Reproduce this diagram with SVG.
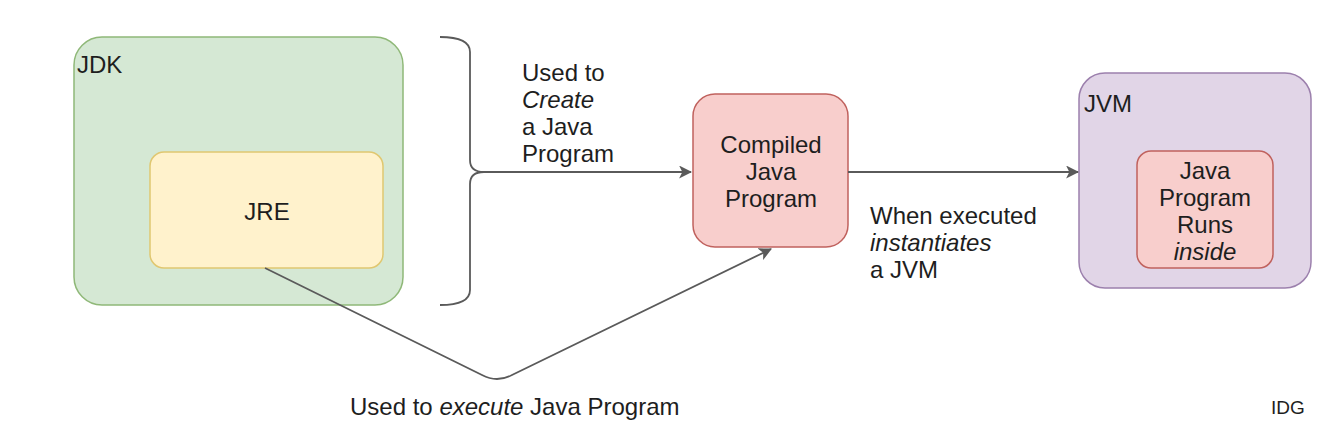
<svg xmlns="http://www.w3.org/2000/svg" width="1334" height="440" viewBox="0 0 1334 440">
<style>
text{font-family:"Liberation Sans",Arial,sans-serif;fill:#1e1e1e;font-size:24px}
.c{text-anchor:middle}
.i{font-style:italic}
.ln{fill:none;stroke:#5a5a5a;stroke-width:1.8}
</style>
<defs>
<marker id="ah" viewBox="0 0 12 12" refX="11" refY="6" markerWidth="13" markerHeight="13" markerUnits="userSpaceOnUse" orient="auto">
<path d="M0,0 L12,6 L0,12 L3,6 Z" fill="#5a5a5a"/>
</marker>
</defs>
<rect width="1334" height="440" fill="#fff"/>
<g id="jdk">
<rect x="74" y="37" width="329" height="268" rx="28" fill="#d5e8d4" stroke="#8fb878" stroke-width="1.5"/>
<text x="77" y="73">JDK</text>
</g>
<g id="jre">
<rect x="150" y="152" width="233" height="116" rx="14" fill="#fff2cc" stroke="#e0c770" stroke-width="1.5"/>
<text class="c" x="267" y="220">JRE</text>
</g>
<g id="compiled">
<rect x="693" y="94" width="155" height="153" rx="22" fill="#f8cecc" stroke="#c0625e" stroke-width="1.5"/>
<text class="c" x="771" y="153">Compiled</text>
<text class="c" x="771" y="180">Java</text>
<text class="c" x="771" y="207">Program</text>
</g>
<g id="jvm">
<rect x="1079" y="73" width="232" height="215" rx="26" fill="#e1d5e7" stroke="#9c80ad" stroke-width="1.5"/>
<text x="1084" y="112">JVM</text>
</g>
<g id="runs">
<rect x="1137" y="151" width="136" height="117" rx="14" fill="#f8cecc" stroke="#c0625e" stroke-width="1.5"/>
<text class="c" x="1205" y="179">Java</text>
<text class="c" x="1205" y="206">Program</text>
<text class="c" x="1205" y="233">Runs</text>
<text class="c i" x="1205" y="260">inside</text>
</g>
<g id="connectors">
<path class="ln" d="M440 37 Q470 37 470 52 L470 160 Q470 172 484 172 M440 305 Q470 305 470 290 L470 184 Q470 172 484 172"/>
<path class="ln" d="M482 172 L691 172" marker-end="url(#ah)"/>
<path class="ln" d="M848 172 L1078 172" marker-end="url(#ah)"/>
<path class="ln" d="M265 268 L482 375 Q497 383 512 375 L771 249" marker-end="url(#ah)"/>
</g>
<g id="labels">
<text x="522" y="81">Used to</text>
<text class="i" x="522" y="108">Create</text>
<text x="522" y="135">a Java</text>
<text x="522" y="162">Program</text>
<text x="870" y="224">When executed</text>
<text class="i" x="870" y="251">instantiates</text>
<text x="870" y="278">a JVM</text>
<text x="350" y="415">Used to <tspan class="i">execute</tspan> Java Program</text>
<text x="1271" y="414" style="font-size:19px">IDG</text>
</g>
</svg>
